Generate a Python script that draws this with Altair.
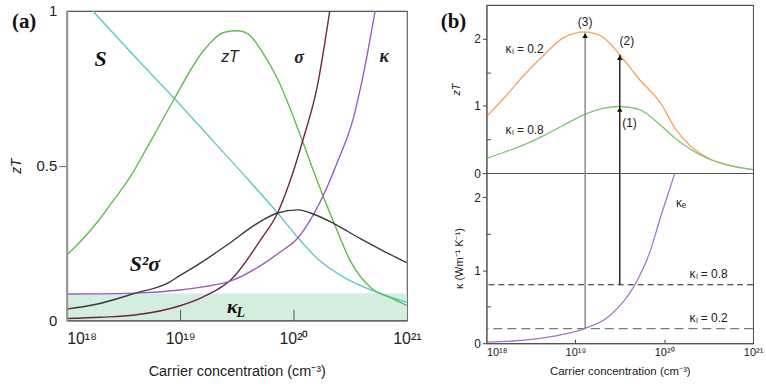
import altair as alt
import pandas as pd

SANS = "Liberation Sans, Arial"
SERIF = "Liberation Serif, Times New Roman, serif"

# ---------------- panel (a): x = log10 of carrier concentration (cm^-3) ----------------
a_s_logn = [18.23, 18.6, 18.95, 19.3, 19.6, 19.86, 20.04, 20.21, 20.45, 20.74, 21.0]
a_s_val = [1.0, 0.853, 0.717, 0.576, 0.455, 0.347, 0.267, 0.2, 0.138, 0.09, 0.058]

a_zt_logn = [18.0, 18.14, 18.28, 18.41, 18.54, 18.75, 18.95, 19.2, 19.4, 19.51, 19.6,
             19.72, 19.86, 20.08, 20.21, 20.36, 20.5, 20.68, 20.85, 21.0]
a_zt_val = [0.21, 0.262, 0.322, 0.386, 0.452, 0.585, 0.717, 0.868, 0.932, 0.936, 0.926,
            0.87, 0.78, 0.579, 0.45, 0.312, 0.193, 0.106, 0.074, 0.048]

a_sigma_logn = [18.0, 18.3, 18.6, 19.0, 19.2, 19.46, 19.71, 19.86, 19.97, 20.08, 20.21, 20.32]
a_sigma_val = [0.006, 0.01, 0.017, 0.047, 0.075, 0.135, 0.26, 0.347, 0.45, 0.579, 0.756, 1.0]

a_kappa_logn = [18.0, 18.6, 19.0, 19.2, 19.46, 19.71, 19.88, 20.04, 20.18, 20.32, 20.39,
                20.52, 20.63, 20.72]
a_kappa_val = [0.085, 0.088, 0.098, 0.108, 0.129, 0.177, 0.22, 0.267, 0.344, 0.45, 0.514,
               0.643, 0.82, 1.0]

a_pf_logn = [18.0, 18.25, 18.6, 18.9, 19.0, 19.2, 19.42, 19.71, 19.86, 20.04, 20.15,
             20.36, 20.59, 20.82, 21.0]
a_pf_val = [0.036, 0.051, 0.087, 0.122, 0.145, 0.19, 0.245, 0.32, 0.347, 0.357, 0.347,
            0.312, 0.264, 0.219, 0.186]

a_kappa_L = 0.087  # lattice contribution (shaded band)

a_curves = ["S", "zT", "sigma", "kappa", "S2sigma"]
a_colors = ["#5CCACC", "#5DBE48", "#6E2447", "#9B5BBF", "#3A3A3A"]

# ---------------- panel (b) ----------------
b_zt02_logn = [18.0, 18.2, 18.44, 18.65, 18.85, 19.0, 19.1, 19.3, 19.5, 19.71, 19.97,
               20.12, 20.3, 20.5, 20.75, 21.0]
b_zt02_val = [0.84, 1.12, 1.48, 1.76, 2.0, 2.08, 2.10, 2.03, 1.76, 1.41, 1.02,
              0.67, 0.40, 0.22, 0.11, 0.05]

b_zt08_logn = [18.0, 18.2, 18.44, 18.65, 18.85, 19.1, 19.3, 19.5, 19.71, 19.97, 20.12,
               20.3, 20.5, 20.75, 21.0]
b_zt08_val = [0.22, 0.31, 0.43, 0.56, 0.70, 0.87, 0.96, 0.99, 0.95, 0.70, 0.52,
              0.35, 0.21, 0.11, 0.05]

b_ke_logn = [18.0, 18.3, 18.63, 18.9, 19.1, 19.38, 19.67, 19.83, 19.97, 20.12]
b_ke_val = [0.015, 0.03, 0.07, 0.13, 0.2, 0.37, 0.8, 1.22, 1.77, 2.33]

b_kappa_l = [0.8, 0.2]
b_zt_max = 2.5
b_kappa_max = 2.33

# arrows: start on the kappa_l line, end on the zT curve
b_arrow_logn = [19.11, 19.50]
b_arrow_base = [0.2, 0.8]
b_arrow_tip = [2.09, 1.76]
b_arrow_color = ["#858585", "#1a1a1a"]
b_head_logn = [19.11, 19.50, 19.50]
b_head_zt = [2.09, 1.76, 0.99]

LOG_LABELS = ("datum.value == 18 ? '10¹⁸' : datum.value == 19 ? '10¹⁹' : "
              "datum.value == 20 ? '10²⁰' : '10²¹'")
FIRST_LEFT = {"condition": {"test": "datum.value == 18", "value": "left"}, "value": "center"}


def curve_df(name, xs, ys, color):
    return pd.DataFrame({"logn": xs, "v": ys, "curve": name, "c": color})


# ======================= panel (a) =======================
xa = alt.Scale(domain=[18, 21], nice=False, zero=False)
ya = alt.Scale(domain=[0, 1], nice=False, zero=False)

df_a = pd.concat([
    curve_df(n, xs, ys, c) for n, xs, ys, c in zip(
        a_curves,
        [a_s_logn, a_zt_logn, a_sigma_logn, a_kappa_logn, a_pf_logn],
        [a_s_val, a_zt_val, a_sigma_val, a_kappa_val, a_pf_val],
        a_colors)
])

a_x_axis = alt.Axis(orient="bottom", values=[18, 19, 20, 21], labelExpr=LOG_LABELS,
                    ticks=False, domainColor="#555", domainWidth=1.3, labelFontSize=16,
                    labelPadding=10, labelAlign=FIRST_LEFT, title="Carrier concentration (cm⁻³)",
                    titleFontSize=14.5, titleFontWeight="normal", titlePadding=18, zindex=2)
a_x_ticks = alt.Axis(orient="bottom", values=[19, 20], offset=-11, tickSize=11, labels=False,
                     domain=False, title=None, tickColor="#555", zindex=2)
a_y_axis = alt.Axis(orient="left", values=[0, 0.5, 1], format="~g", tickSize=8,
                    tickColor={"condition": {"test": "datum.value == 0.5", "value": "#666"},
                               "value": "transparent"},
                    domainColor="#9a9a9a", domainWidth=2.2, labelFontSize=15, labelPadding=2,
                    title="zT", titleFontStyle="italic", titleFontSize=14,
                    titleFontWeight="normal", titlePadding=13, zindex=2)

band_a = alt.Chart(pd.DataFrame({"x0": [18], "x1": [21], "lo": [0], "hi": [a_kappa_L]})).mark_rect(
    color="#D3EEDF").encode(
    x=alt.X("x0:Q", scale=xa, axis=a_x_ticks), x2="x1:Q",
    y=alt.Y("lo:Q", scale=ya, axis=None), y2="hi:Q")

lines_a = alt.Chart(df_a).mark_line(strokeWidth=1.4, interpolate="monotone", clip=True).encode(
    x=alt.X("logn:Q", scale=xa, axis=a_x_axis),
    y=alt.Y("v:Q", scale=ya, axis=a_y_axis),
    detail="curve:N",
    color=alt.Color("c:N", scale=None))


def note(df, **style):
    return alt.Chart(df).mark_text(**style).encode(
        x=alt.X("logn:Q", scale=xa, axis=None),
        y=alt.Y("v:Q", scale=ya, axis=None),
        text="t:N")


notes_serif_big = note(pd.DataFrame({"logn": [18.3, 18.69], "v": [0.846, 0.183], "t": ["S", "S²σ"]}),
                       font=SERIF, fontSize=22, fontStyle="italic", fontWeight="bold", color="#111")
notes_zt = note(pd.DataFrame({"logn": [19.44], "v": [0.852], "t": ["zT"]}),
                font=SANS, fontSize=16, fontStyle="italic", color="#222")
notes_greek = note(pd.DataFrame({"logn": [20.05, 20.8], "v": [0.849, 0.852], "t": ["σ", "κ"]}),
                   font=SERIF, fontSize=18, fontStyle="italic", fontWeight="bold", color="#222")
notes_kl = note(pd.DataFrame({"logn": [19.46], "v": [0.042], "t": ["κ"]}),
                font=SERIF, fontSize=20, fontStyle="italic", fontWeight="bold", color="#111")
notes_kl_sub = note(pd.DataFrame({"logn": [19.535], "v": [0.022], "t": ["L"]}),
                    font=SERIF, fontSize=14, fontStyle="italic", fontWeight="bold", color="#111")

tag_a = alt.Chart(pd.DataFrame({"t": ["(a)"]})).mark_text(
    font=SERIF, fontSize=21, fontWeight="bold", align="left", color="#111").encode(
    text="t:N", x=alt.value(-55), y=alt.value(11))

plot_a = alt.layer(band_a, lines_a, notes_serif_big, notes_zt, notes_greek, notes_kl,
                   notes_kl_sub, tag_a).resolve_axis(x="independent", y="independent").properties(
    width=342, height=311)

# a thin empty strip above panel (a) so that its frame sits a little lower than panel (b)
strip_a = alt.Chart(pd.DataFrame({"t": [""]})).mark_text().encode(text="t:N").properties(
    width=342, height=6, view=alt.ViewBackground(stroke="transparent"))

panel_a = alt.vconcat(strip_a, plot_a, spacing=0, bounds="flush")

# ======================= panel (b) =======================
xb = alt.Scale(domain=[18, 21], nice=False, zero=False)
ybt = alt.Scale(domain=[0, b_zt_max], nice=False, zero=False)
ybb = alt.Scale(domain=[0, b_kappa_max], nice=False, zero=False)


def major_y(title, pad, style="normal"):
    return alt.Axis(orient="left", values=[0, 1, 2], format="d", tickSize=4, tickColor="#444",
                    domainColor="#555", labelFontSize=12, labelPadding=2, title=title,
                    titleFontSize=11, titleFontWeight="normal", titleFontStyle=style,
                    titlePadding=pad, zindex=2)


minor_y = alt.Axis(orient="left", values=[0.5, 1.5], offset=-4, tickSize=4, labels=False,
                   domain=False, title=None, tickColor="#444", zindex=2)

# ---- upper: zT ----
df_bt = pd.concat([curve_df("0.2", b_zt02_logn, b_zt02_val, "#F6A05C"),
                   curve_df("0.8", b_zt08_logn, b_zt08_val, "#7CC474")])
lines_bt = alt.Chart(df_bt).mark_line(strokeWidth=1.3, interpolate="monotone", clip=True).encode(
    x=alt.X("logn:Q", scale=xb, axis=None),
    y=alt.Y("v:Q", scale=ybt, axis=major_y("zT", 12, "italic")),
    detail="curve:N",
    color=alt.Color("c:N", scale=None))

arrows_up = alt.Chart(pd.DataFrame({"logn": b_arrow_logn, "zero": [0, 0], "tip": b_arrow_tip,
                                    "c": b_arrow_color})).mark_rule(strokeWidth=1.4).encode(
    x=alt.X("logn:Q", scale=xb, axis=None),
    y=alt.Y("zero:Q", scale=ybt, axis=minor_y), y2="tip:Q",
    color=alt.Color("c:N", scale=None))

heads = alt.Chart(pd.DataFrame({"logn": b_head_logn, "v": b_head_zt})).mark_point(
    shape="triangle-up", filled=True, size=30, color="#111", opacity=1, yOffset=3).encode(
    x=alt.X("logn:Q", scale=xb, axis=None),
    y=alt.Y("v:Q", scale=ybt, axis=None))


def note_b(df, scale, **style):
    return alt.Chart(df).mark_text(**style).encode(
        x=alt.X("logn:Q", scale=xb, axis=None),
        y=alt.Y("v:Q", scale=scale, axis=None),
        text="t:N")


notes_bt = note_b(pd.DataFrame({"logn": [19.11, 19.58, 19.61, 18.43, 18.43],
                                "v": [2.24, 1.96, 0.74, 1.85, 0.64],
                                "t": ["(3)", "(2)", "(1)", "κₗ = 0.2", "κₗ = 0.8"]}),
                  ybt, font=SANS, fontSize=12, color="#222")

tag_b = alt.Chart(pd.DataFrame({"t": ["(b)"]})).mark_text(
    font=SERIF, fontSize=21, fontWeight="bold", align="left", color="#111").encode(
    text="t:N", x=alt.value(-46), y=alt.value(17))

top_b = alt.layer(lines_bt, arrows_up, heads, notes_bt, tag_b).resolve_axis(
    y="independent").properties(width=268, height=169)

# ---- lower: kappa ----
b_x_axis = alt.Axis(orient="bottom", values=[18, 19, 20, 21], labelExpr=LOG_LABELS, ticks=False,
                    domainColor="#555", labelFontSize=11, labelPadding=3, labelAlign=FIRST_LEFT,
                    title="Carrier concentration (cm⁻³)", titleFontSize=11.5,
                    titleFontWeight="normal", titlePadding=8, zindex=2)
b_x_ticks = alt.Axis(orient="bottom", values=[19, 20], offset=-4, tickSize=4, labels=False,
                     domain=False, title=None, tickColor="#444", zindex=2)

ke_line = alt.Chart(curve_df("ke", b_ke_logn, b_ke_val, "#A374C9")).mark_line(
    strokeWidth=1.3, interpolate="monotone", clip=True, color="#A374C9").encode(
    x=alt.X("logn:Q", scale=xb, axis=b_x_axis),
    y=alt.Y("v:Q", scale=ybb, axis=major_y("κ (Wm⁻¹ K⁻¹)", 9)))

dash_08 = alt.Chart(pd.DataFrame({"k": [b_kappa_l[0]]})).mark_rule(
    color="#222", strokeWidth=1.1, strokeDash=[6, 4]).encode(
    y=alt.Y("k:Q", scale=ybb, axis=minor_y))
dash_02 = alt.Chart(pd.DataFrame({"k": [b_kappa_l[1]]})).mark_rule(
    color="#7a7a7a", strokeWidth=1.3, strokeDash=[9, 5]).encode(
    y=alt.Y("k:Q", scale=ybb, axis=None))

arrows_low = alt.Chart(pd.DataFrame({"logn": b_arrow_logn, "base": b_arrow_base,
                                     "top": [b_kappa_max, b_kappa_max],
                                     "c": b_arrow_color})).mark_rule(strokeWidth=1.4).encode(
    x=alt.X("logn:Q", scale=xb, axis=b_x_ticks),
    y=alt.Y("base:Q", scale=ybb, axis=None), y2="top:Q",
    color=alt.Color("c:N", scale=None))

notes_bb = note_b(pd.DataFrame({"logn": [20.19, 20.5, 20.5], "v": [1.92, 0.95, 0.35],
                                "t": ["κₑ", "κₗ = 0.8", "κₗ = 0.2"]}),
                  ybb, font=SANS, fontSize=12, color="#222")

bot_b = alt.layer(dash_08, dash_02, arrows_low, ke_line, notes_bb).resolve_axis(
    x="independent", y="independent").properties(width=268, height=171)

panel_b = alt.vconcat(top_b, bot_b, spacing=0, bounds="flush")

chart = alt.hconcat(panel_a, panel_b, spacing=18).properties(
    padding={"left": 8, "top": 0, "right": 2, "bottom": 2}
).configure_view(stroke="#555", strokeWidth=1.1).configure_axis(
    grid=False, labelFont=SANS, titleFont=SANS, labelColor="#222", titleColor="#222")

chart.save("out.html", embed_options={"renderer": "svg", "actions": False})
